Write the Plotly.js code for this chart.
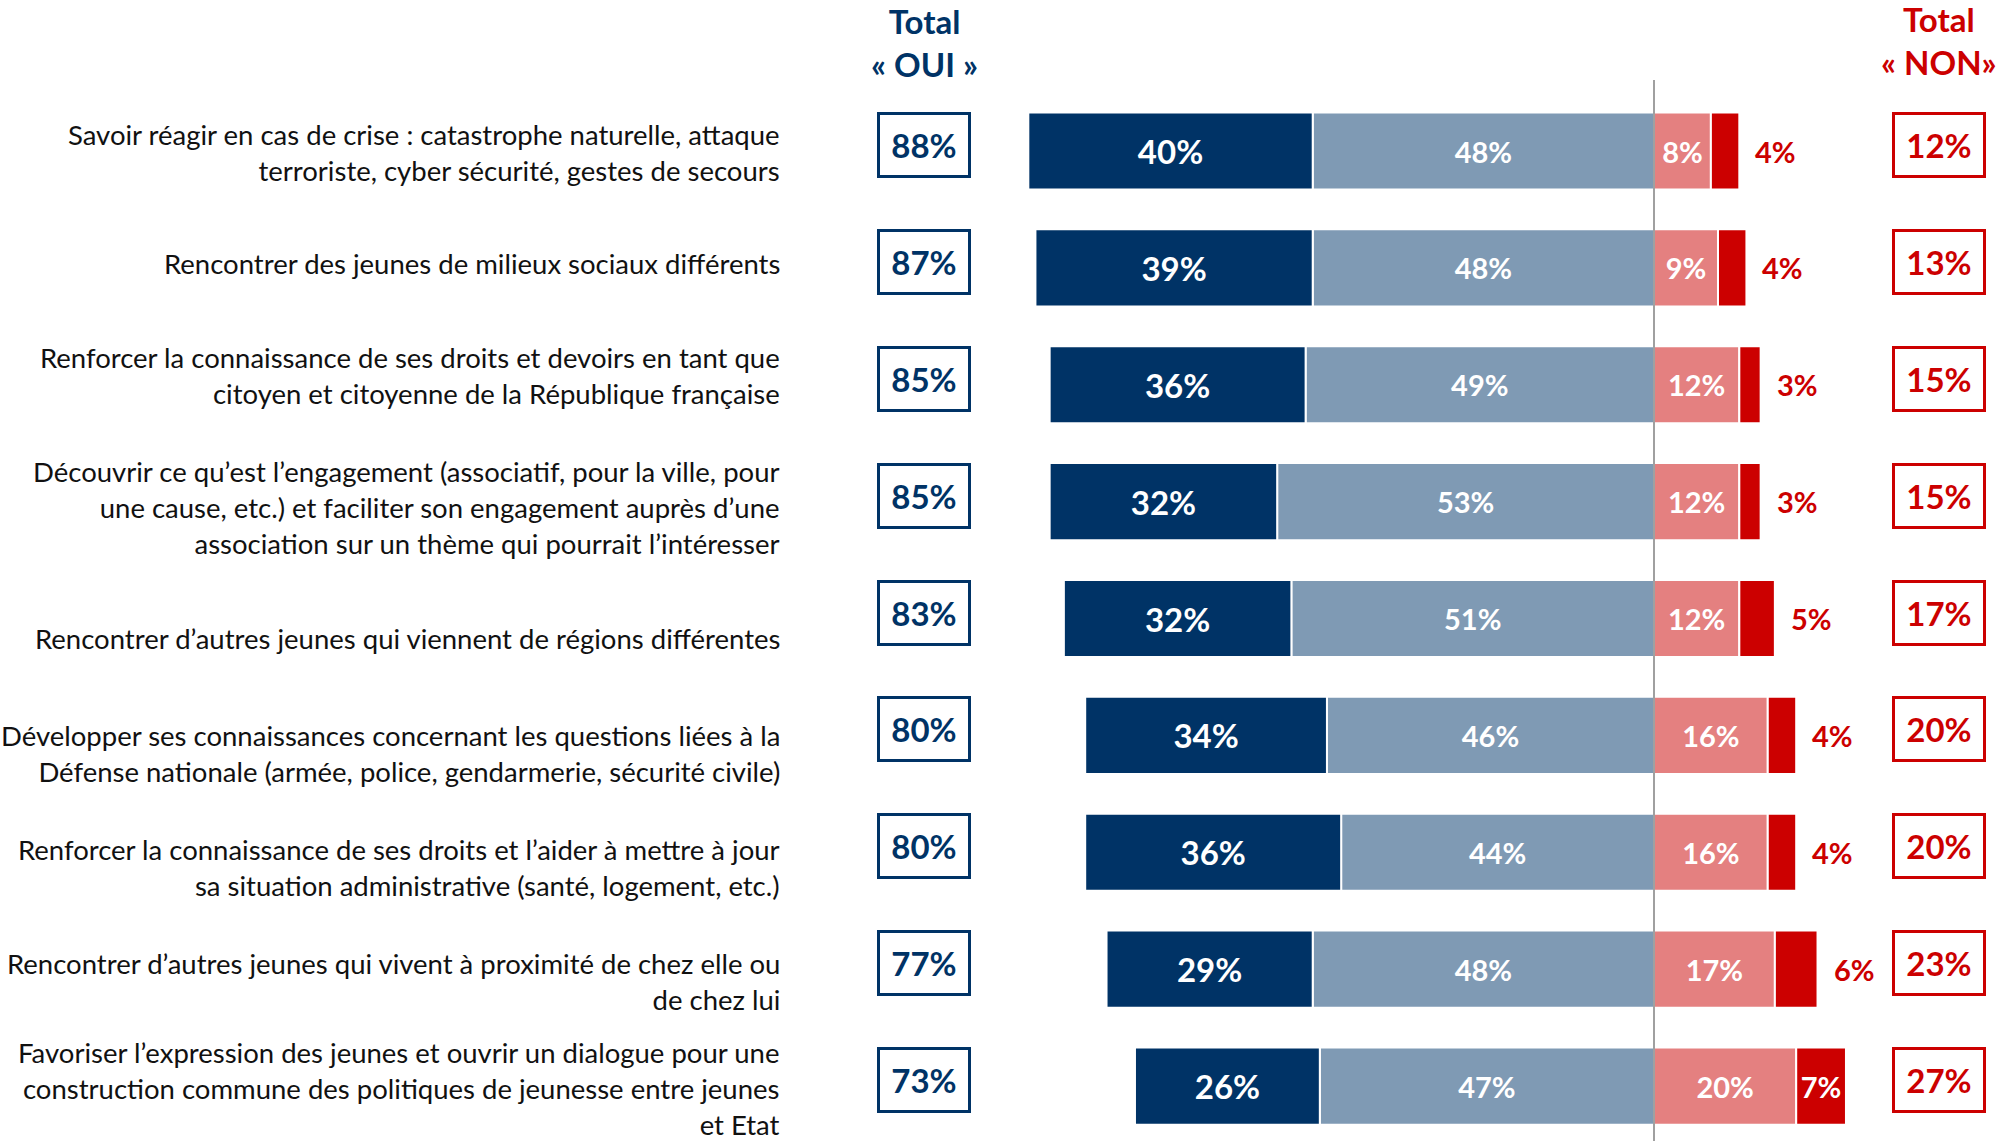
<!DOCTYPE html>
<html>
<head>
<meta charset="utf-8">
<script src="https://cdn.plot.ly/plotly-3.0.1.min.js"></script>
<style>
  html, body { margin: 0; padding: 0; background: #fff; }
  #chart { width: 2011px; height: 1141px; }
</style>
</head>
<body>
<div id="chart"></div>
<script>
// items, top to bottom
const labels = [
    "Savoir réagir en cas de crise : catastrophe naturelle, attaque<br>terroriste, cyber sécurité, gestes de secours",
    "Rencontrer des jeunes de milieux sociaux différents",
    "Renforcer la connaissance de ses droits et devoirs en tant que<br>citoyen et citoyenne de la République française",
    "Découvrir ce qu’est l’engagement (associatif, pour la ville, pour<br>une cause, etc.) et faciliter son engagement auprès d’une<br>association sur un thème qui pourrait l’intéresser",
    "Rencontrer d’autres jeunes qui viennent de régions différentes",
    "Développer ses connaissances concernant les questions liées à la<br>Défense nationale (armée, police, gendarmerie, sécurité civile)",
    "Renforcer la connaissance de ses droits et l’aider à mettre à jour<br>sa situation administrative (santé, logement, etc.)",
    "Rencontrer d’autres jeunes qui vivent à proximité de chez elle ou<br>de chez lui",
    "Favoriser l’expression des jeunes et ouvrir un dialogue pour une<br>construction commune des politiques de jeunesse entre jeunes<br>et Etat"
];

const ouiToutAFait = [40, 39, 36, 32, 32, 34, 36, 29, 26];
const ouiPlutot    = [48, 48, 49, 53, 51, 46, 44, 48, 47];
const nonPlutotPas = [8, 9, 12, 12, 12, 16, 16, 17, 20];
const nonPasDuTout = [4, 4, 3, 3, 5, 4, 4, 6, 7];
const totalOui = [88, 87, 85, 85, 83, 80, 80, 77, 73];
const totalNon = [12, 13, 15, 15, 17, 20, 20, 23, 27];

// small vertical nudges of the label blocks (px), as in the slide
const labelShift = [-1, 4, 9, -6, -20, -18, -15, -12, -2];

const NAVY = '#003366';
const LIGHT = '#7f9ab4';
const PINK = '#e48080';
const RED = '#cc0000';
const FONT = 'Lato, "Open Sans", sans-serif';

const rows = labels.map((_, i) => i);
const pct = v => v + '%';

function barTrace(name, values, sign, color, size) {
    return {
        type: 'bar',
        orientation: 'h',
        name: name,
        y: rows,
        x: values.map(v => sign * v),
        text: values.map(pct),
        textposition: 'inside',
        insidetextanchor: 'middle',
        constraintext: 'none',
        textfont: { family: FONT, size: size, color: '#ffffff', weight: 'bold' },
        marker: { color: color, line: { color: '#ffffff', width: 2 } },
        hoverinfo: 'name+text',
        cliponaxis: false,
        showlegend: false
    };
}

const redTrace = barTrace('Non, pas du tout', nonPasDuTout, 1, RED, 29);
redTrace.text = nonPasDuTout.map(v => v >= 7 ? pct(v) : '');

const data = [
    barTrace('Oui, plutôt', ouiPlutot, -1, LIGHT, 29),
    barTrace('Oui, tout à fait', ouiToutAFait, -1, NAVY, 33),
    barTrace('Non, plutôt pas', nonPlutotPas, 1, PINK, 29),
    redTrace
];

const annotations = [];

labels.forEach((lab, i) => {
    annotations.push({
        text: lab, xref: 'paper', x: 782 / 2011, xanchor: 'right', align: 'right',
        yref: 'y', y: i, yanchor: 'middle', yshift: labelShift[i], showarrow: false,
        font: { family: FONT, size: 27.5, color: '#111111' }
    });
    annotations.push({
        text: pct(totalOui[i]), xref: 'paper', x: 924 / 2011, xanchor: 'center',
        yref: 'y', y: i, yanchor: 'middle', yshift: 6,
        showarrow: false, width: 84, height: 56, borderpad: 2, borderwidth: 3,
        bordercolor: NAVY, bgcolor: '#ffffff',
        font: { family: FONT, size: 33, color: NAVY, weight: 'bold' }
    });
    annotations.push({
        text: pct(totalNon[i]), xref: 'paper', x: 1939 / 2011, xanchor: 'center',
        yref: 'y', y: i, yanchor: 'middle', yshift: 6,
        showarrow: false, width: 84, height: 56, borderpad: 2, borderwidth: 3,
        bordercolor: RED, bgcolor: '#ffffff',
        font: { family: FONT, size: 33, color: RED, weight: 'bold' }
    });
    if (nonPasDuTout[i] < 7) {
        annotations.push({
            text: pct(nonPasDuTout[i]), xref: 'x', x: totalNon[i], xanchor: 'left', xshift: 14,
            yref: 'y', y: i, yanchor: 'middle', showarrow: false,
            font: { family: FONT, size: 29, color: RED, weight: 'bold' }
        });
    }
});

annotations.push({
    text: 'Total<br>« OUI »', xref: 'paper', x: 924 / 2011, xanchor: 'center',
    yref: 'paper', y: 1 - 43 / 1141, yanchor: 'middle', showarrow: false,
    font: { family: FONT, size: 33, color: NAVY, weight: 'bold' }
});
annotations.push({
    text: 'Total<br>« NON»', xref: 'paper', x: 1939 / 2011, xanchor: 'center',
    yref: 'paper', y: 1 - 40 / 1141, yanchor: 'middle', showarrow: false,
    font: { family: FONT, size: 33, color: RED, weight: 'bold' }
});

// zero at 1654px, 7.11px per point
const pxPerPct = 7.11;
const zeroPx = 1654;

const layout = {
    width: 2011,
    height: 1141,
    margin: { l: 0, r: 0, t: 0, b: 0 },
    paper_bgcolor: '#ffffff',
    plot_bgcolor: '#ffffff',
    barmode: 'relative',
    bargap: 0.34,
    xaxis: {
        range: [-zeroPx / pxPerPct, (2011 - zeroPx) / pxPerPct],
        visible: false, fixedrange: true
    },
    yaxis: {
        range: [8.47, -1.292],
        visible: false, fixedrange: true
    },
    shapes: [{
        type: 'line', xref: 'x', x0: 0, x1: 0, yref: 'paper', y0: 0, y1: 1 - 80 / 1141,
        line: { color: '#808080', width: 1.5 }, layer: 'above'
    }],
    annotations: annotations,
    font: { family: FONT }
};

Plotly.newPlot('chart', data, layout, { displayModeBar: false, staticPlot: true });
</script>
</body>
</html>
